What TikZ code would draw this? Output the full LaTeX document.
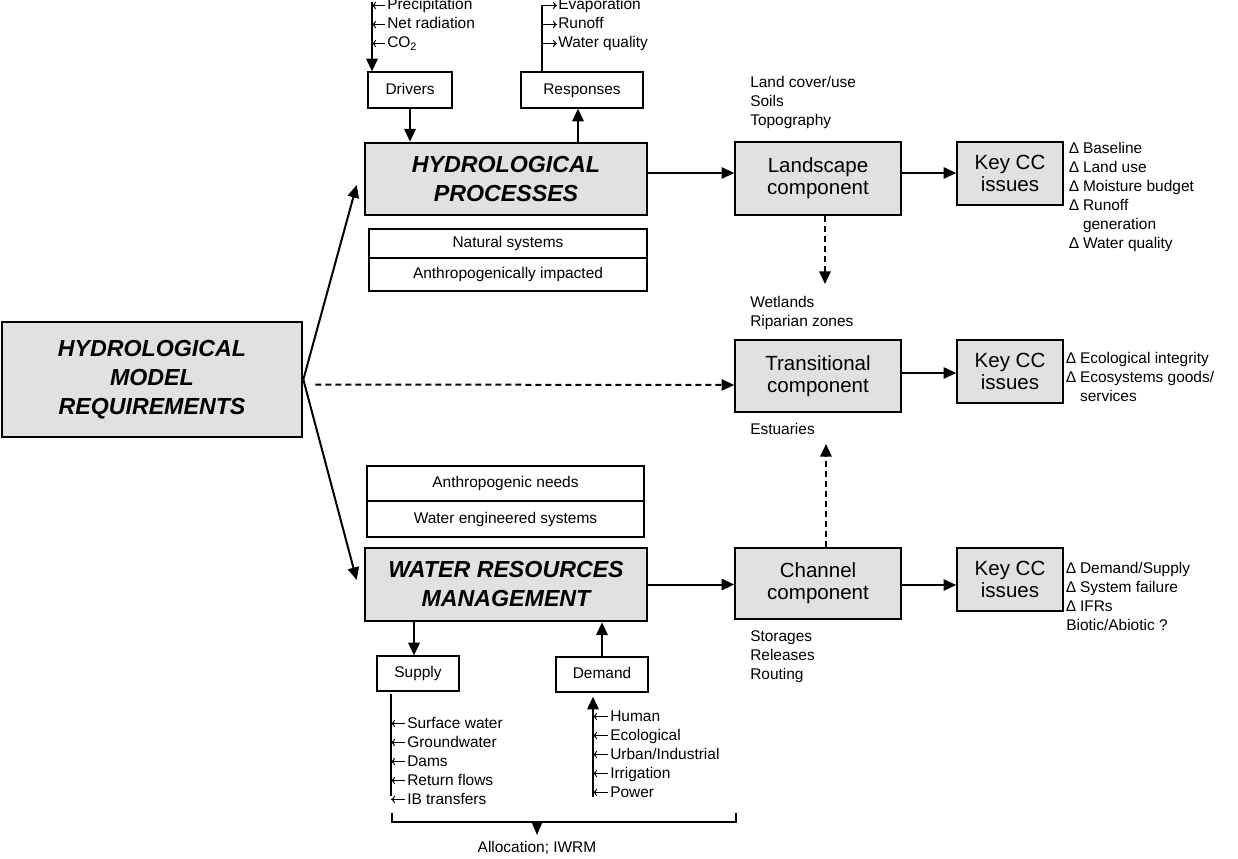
\documentclass[tikz,border=0pt]{standalone}
\usepackage{fontspec}
\setmainfont{Liberation Sans}
\usetikzlibrary{arrows.meta}
\definecolor{boxgray}{RGB}{224,225,227}
\newdimen\pxu \pxu=0.75pt

\begin{document}
\begin{tikzpicture}[x=0.75pt,y=-0.75pt,
  every node/.style={font=\fontsize{11.6}{14.25}\selectfont},
  main/.style={draw,line width=2pt,fill=boxgray,align=center,
    font=\fontsize{17.4}{21.75}\selectfont\bfseries\itshape},
  comp/.style={draw,line width=1.2pt,fill=boxgray,align=center,
    font=\fontsize{15.4}{16.5}\selectfont},
  plain/.style={draw,line width=0.9pt,fill=white,text height=8.6pt,text depth=2.4pt},
  item/.style={anchor=base west,inner sep=0},
  arr/.style={-{Triangle[length=9.5pt,width=8.5pt]},line width=1.5pt},
  darr/.style={arr,dash pattern=on 4.5pt off 3pt},
  tick/.style={-{To[length=3pt,width=5.5pt]},line width=0.7pt}]
\useasboundingbox (0,0) rectangle (1238,859);
%main boxes
\node[main,minimum width=300\pxu,minimum height=115\pxu] (hmr) at (152,379.5)
  {HYDROLOGICAL\\MODEL\\REQUIREMENTS};
\node[main,minimum width=282\pxu,minimum height=72\pxu] (hp) at (506,179)
  {HYDROLOGICAL\\PROCESSES};
\node[main,minimum width=282\pxu,minimum height=73\pxu] (wrm) at (506,584.5)
  {WATER RESOURCES\\MANAGEMENT};
%system boxes
\node[plain,minimum width=278\pxu,minimum height=29\pxu] (nat) at (508,243.5) {Natural systems};
\node[plain,minimum width=278\pxu,minimum height=33\pxu] (imp) at (508,274.5) {Anthropogenically impacted};
\node[plain,minimum width=277\pxu,minimum height=35\pxu] (need) at (505.5,483.5) {Anthropogenic needs};
\node[plain,minimum width=277\pxu,minimum height=36\pxu] (eng) at (505.5,519) {Water engineered systems};
%small boxes
\node[plain,minimum width=84\pxu,minimum height=36\pxu] (drivers) at (410,90) {Drivers};
\node[plain,minimum width=122\pxu,minimum height=36\pxu] (responses) at (582,90) {Responses};
\node[plain,minimum width=82\pxu,minimum height=35\pxu] (supply) at (418,673.5) {Supply};
\node[plain,minimum width=92\pxu,minimum height=35\pxu] (demand) at (602,674.5) {Demand};
%components
\node[comp,minimum width=166\pxu,minimum height=73\pxu] (land) at (818,178.5) {Landscape\\component};
\node[comp,minimum width=166\pxu,minimum height=72\pxu] (trans) at (818,376) {Transitional\\component};
\node[comp,minimum width=166\pxu,minimum height=71\pxu] (chan) at (818,583.5) {Channel\\component};
\node[comp,minimum width=106\pxu,minimum height=63\pxu] (key1) at (1010,173.5) {Key CC\\issues};
\node[comp,minimum width=106\pxu,minimum height=63\pxu] (key2) at (1010,371.5) {Key CC\\issues};
\node[comp,minimum width=106\pxu,minimum height=63\pxu] (key3) at (1010,579.5) {Key CC\\issues};
%from requirements
\coordinate (hpin) at ([shift={(-7,6)}]hp.west);
\coordinate (wrmin) at ([shift={(-7,-4.5)}]wrm.west);
\draw[arr] (hmr.east) -- (hpin);
\draw[arr] (hmr.east) -- (wrmin);
\draw[darr] ([shift={(12,5)}]hmr.east) -- ([shift={(0,9)}]trans.west);
%to components
\draw[arr] ([shift={(0,-6)}]hp.east) -- ([shift={(0,-5.5)}]land.west);
\draw[arr] (wrm.east) -- (chan.west |- wrm.east);
\draw[arr] ([shift={(0,-5.5)}]land.east) -- (key1.west |- 0,173);
\draw[arr] ([shift={(0,-3)}]trans.east) -- (key2.west |- 0,373);
\draw[arr] ([shift={(0,1.5)}]chan.east) -- (key3.west |- 0,585);
\coordinate (wet) at (825,284);
\coordinate (est) at (826,444);
\draw[darr] (wet |- land.south) -- (wet);
\draw[darr] (est |- chan.north) -- (est);
%drivers and responses
\coordinate (rup) at (578,0);
\draw[arr] (drivers.south) -- (drivers.south |- hp.north);
\draw[arr] (rup |- hp.north) -- (rup |- responses.south);
\coordinate (din) at (372,2);
\draw[arr] (din) -- (din |- drivers.north);
\foreach \t [count=\i] in {Precipitation,Net radiation,CO$_{\mathrm{2}}$} {
  \node[item] (drv\i) at (387,{10+19*(\i-1)}) {\t};
  \coordinate (t) at ([shift={(-2,-4.5)}]drv\i.base west);
  \draw[tick] (t) -- (t -| din);
}
\coordinate (rout) at (542,5.5);
\draw[line width=0.8pt] (rout |- responses.north) -- (rout);
\foreach \t [count=\i] in {Evaporation,Runoff,Water quality} {
  \node[item] (rsp\i) at (558,{10+19*(\i-1)}) {\t};
  \coordinate (t) at ([shift={(-1,-4.5)}]rsp\i.base west);
  \draw[tick] (t -| rout) -- (t);
}
%supply and demand
\coordinate (sdown) at (414,0);
\draw[arr] (sdown |- wrm.south) -- (sdown |- supply.north);
\draw[arr] (demand.north) -- (demand.north |- wrm.south);
\coordinate (sin) at (391,694);
\draw[line width=0.8pt] (sin) -- (391,796);
\foreach \t [count=\i] in {Surface water,Groundwater,Dams,Return flows,IB transfers} {
  \node[item] (sup\i) at (407,{728+19*(\i-1)}) {\t};
  \coordinate (t) at ([shift={(-2,-4.5)}]sup\i.base west);
  \draw[tick] (t) -- (t -| sin);
}
\coordinate (dem) at (593,797);
\draw[arr,shorten >=4\pxu] (dem) -- (dem |- demand.south);
\foreach \t [count=\i] in {Human,Ecological,Urban/Industrial,Irrigation,Power} {
  \node[item] (dmd\i) at (610,{721+19*(\i-1)}) {\t};
  \coordinate (t) at ([shift={(-2,-4.5)}]dmd\i.base west);
  \draw[tick] (t) -- (t -| dem);
}
%allocation bracket
\coordinate (bl) at (392,813);
\coordinate (br) at (736,813);
\draw[line width=1.3pt] (bl) -- ++(0,9) -| (br);
\fill (531,821) -- (543,821) -- (537,835) -- cycle;
\node (alloc) at (537,848) {Allocation; IWRM};
%component notes
\foreach \t [count=\i] in {Land cover/use,Soils,Topography}
  \node[item] (lnd\i) at (750,{88+19*(\i-1)}) {\t};
\foreach \t [count=\i] in {Wetlands,Riparian zones}
  \node[item] (wet\i) at (750,{307+19*(\i-1)}) {\t};
\node[item] (est1) at (750,434) {Estuaries};
\foreach \t [count=\i] in {Storages,Releases,Routing}
  \node[item] (chn\i) at (750,{641+19*(\i-1)}) {\t};
%key issues
\foreach \t [count=\i] in {∆ Baseline,∆ Land use,∆ Moisture budget,∆ Runoff,
    \phantom{∆ }generation,∆ Water quality}
  \node[item] (iss\i) at (1069,{154+19*(\i-1)}) {\t};
\foreach \t [count=\i] in {∆ Ecological integrity,∆ Ecosystems goods/,\phantom{∆ }services}
  \node[item] (eco\i) at (1066,{363+19*(\i-1)}) {\t};
\foreach \t [count=\i] in {∆ Demand/Supply,∆ System failure,∆ IFRs,Biotic/Abiotic ?}
  \node[item] (dem\i) at (1066,{573+19*(\i-1)}) {\t};
\end{tikzpicture}
\end{document}
